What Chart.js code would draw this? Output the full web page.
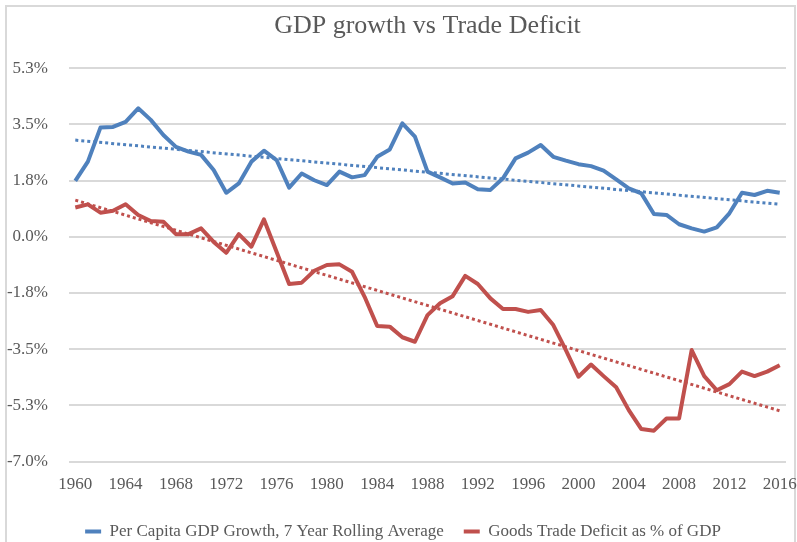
<!DOCTYPE html>
<html>
<head>
<meta charset="utf-8">
<script src="https://cdn.jsdelivr.net/npm/chart.js@4/dist/chart.umd.min.js"></script>
<style>
  html, body { margin: 0; padding: 0; background: #fff; overflow: hidden; }
  #wrap { width: 797px; height: 542px; overflow: hidden; position: relative; }
</style>
</head>
<body>
<div id="wrap"><canvas id="c" width="797" height="550"></canvas></div>
<script>
const years = ['1960','1961','1962','1963','1964','1965','1966','1967','1968','1969',
  '1970','1971','1972','1973','1974','1975','1976','1977','1978','1979',
  '1980','1981','1982','1983','1984','1985','1986','1987','1988','1989',
  '1990','1991','1992','1993','1994','1995','1996','1997','1998','1999',
  '2000','2001','2002','2003','2004','2005','2006','2007','2008','2009',
  '2010','2011','2012','2013','2014','2015','2016'];

const gdpGrowth = [1.74, 2.34, 3.40, 3.42, 3.58, 4.00, 3.64, 3.17, 2.80, 2.65,
  2.55, 2.08, 1.37, 1.66, 2.34, 2.68, 2.39, 1.53, 1.97, 1.76,
  1.61, 2.03, 1.85, 1.92, 2.49, 2.72, 3.53, 3.12, 2.03, 1.85,
  1.66, 1.69, 1.48, 1.46, 1.82, 2.44, 2.62, 2.86, 2.49, 2.37,
  2.26, 2.20, 2.06, 1.79, 1.51, 1.35, 0.71, 0.68, 0.39, 0.26,
  0.16, 0.29, 0.73, 1.37, 1.30, 1.43, 1.37];

const tradeDeficit = [0.91, 1.01, 0.75, 0.81, 1.01, 0.68, 0.49, 0.47, 0.08, 0.08,
  0.26, -0.16, -0.50, 0.08, -0.31, 0.54, -0.47, -1.47, -1.43, -1.06,
  -0.88, -0.86, -1.09, -1.87, -2.78, -2.80, -3.13, -3.27, -2.44, -2.07,
  -1.85, -1.22, -1.47, -1.92, -2.25, -2.25, -2.34, -2.28, -2.75, -3.53,
  -4.36, -3.98, -4.34, -4.69, -5.40, -5.99, -6.04, -5.66, -5.66, -3.53,
  -4.34, -4.78, -4.59, -4.20, -4.34, -4.20, -4.00];

// trendline end values (1960 and 2016)
const gdpTrendEnds = [3.01, 1.01];
const deficitTrendEnds = [1.14, -5.42];

const seriesNames = ['Per Capita GDP Growth, 7 Year Rolling Average', 'Goods Trade Deficit as % of GDP'];
const yTicks = [-7, -5.25, -3.5, -1.75, 0, 1.75, 3.5, 5.25];

const BLUE = '#4F81BD';
const RED = '#C0504D';
const TEXT = '#595959';
const GRID = '#d9d9d9';
const FONT = "'Liberation Serif', 'Times New Roman', serif";

const centerTitle = {
  id: 'centerTitle',
  afterLayout(chart) {
    const t = chart.titleBlock;
    if (t) {
      t.left = chart.chartArea.left;
      t.right = chart.chartArea.right;
      t.width = t.right - t.left;
    }
    const l = chart.legend;
    if (l) {
      l.left = l.left + 20;
    }
  }
};
const frame = {
  id: 'frame',
  beforeDraw(chart) {
    const ctx = chart.ctx;
    ctx.save();
    ctx.strokeStyle = GRID;
    ctx.lineWidth = 2;
    ctx.strokeRect(6, 6, 789, 700);
    ctx.restore();
  }
};

new Chart(document.getElementById('c'), {
  type: 'line',
  data: {
    labels: years,
    datasets: [
      { label: seriesNames[0], data: gdpGrowth, borderColor: BLUE, backgroundColor: BLUE,
        borderWidth: 4, pointRadius: 0, tension: 0, borderJoinStyle: 'round', order: 1 },
      { label: seriesNames[1], data: tradeDeficit, borderColor: RED, backgroundColor: RED,
        borderWidth: 4, pointRadius: 0, tension: 0, borderJoinStyle: 'round', order: 1 },
      { label: 'trend1', data: [{x: years[0], y: gdpTrendEnds[0]}, {x: years[years.length-1], y: gdpTrendEnds[1]}],
        borderColor: BLUE, borderWidth: 3, borderDash: [3, 3], pointRadius: 0, order: 0 },
      { label: 'trend2', data: [{x: years[0], y: deficitTrendEnds[0]}, {x: years[years.length-1], y: deficitTrendEnds[1]}],
        borderColor: RED, borderWidth: 3, borderDash: [3, 3], pointRadius: 0, order: 0 }
    ]
  },
  options: {
    responsive: false,
    animation: false,
    devicePixelRatio: 1,
    layout: { padding: { left: 0, right: 11, top: 0, bottom: 0 } },
    plugins: {
      title: {
        display: true,
        text: 'GDP growth vs Trade Deficit',
        color: TEXT,
        font: { family: FONT, size: 26, weight: 'normal', lineHeight: 1.2 },
        padding: { top: 11, bottom: 26 }
      },
      legend: {
        position: 'bottom',
        labels: {
          color: TEXT,
          font: { family: FONT, size: 17 },
          boxWidth: 16,
          boxHeight: 4,
          padding: 20,
          filter: (item) => item.datasetIndex < 2,
          generateLabels(chart) {
            const items = Chart.defaults.plugins.legend.labels.generateLabels(chart);
            items.forEach(it => { it.lineWidth = 0; it.fillStyle = it.strokeStyle; });
            return items;
          }
        }
      },
      tooltip: { enabled: false }
    },
    scales: {
      x: {
        type: 'category',
        offset: true,
        grid: { display: false, drawTicks: false },
        border: { display: false },
        ticks: {
          autoSkip: false,
          maxRotation: 0,
          minRotation: 0,
          padding: 13,
          color: TEXT,
          font: { family: FONT, size: 17 },
          callback(value, index) {
            const y = years[index];
            return ((+y - 1960) % 4 === 0) ? y : null;
          }
        },
        afterFit(scale) {
          scale.height = 41.5;
          scale.paddingLeft = 0;
          scale.paddingRight = 0;
        }
      },
      y: {
        min: yTicks[0],
        max: yTicks[yTicks.length - 1],
        afterBuildTicks(scale) { scale.ticks = yTicks.map(v => ({ value: v })); },
        grid: { color: GRID, lineWidth: 2, drawTicks: false },
        border: { display: false },
        ticks: {
          padding: 21,
          color: TEXT,
          font: { family: FONT, size: 17 },
          callback(value) { return (Math.round(value * 100) / 100).toFixed(1) + '%'; }
        },
        afterFit(scale) { scale.width = 69; }
      }
    }
  },
  plugins: [centerTitle, frame]
});
</script>
</body>
</html>
